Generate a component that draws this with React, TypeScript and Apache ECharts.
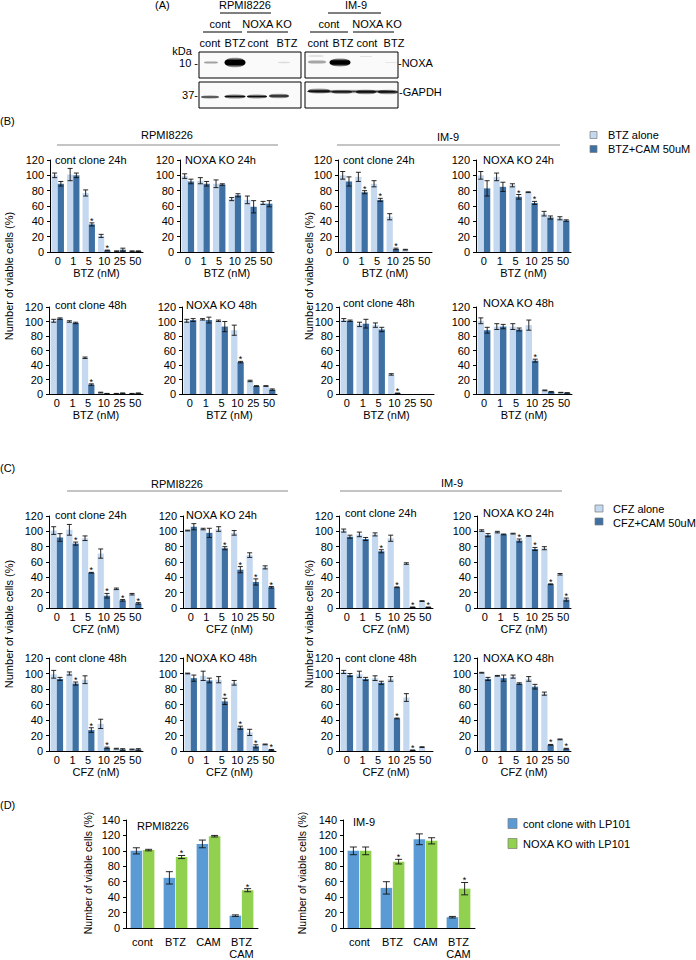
import React, { useEffect, useRef } from "react";
import * as echarts from "echarts";

const FONT = "'Liberation Sans', Arial, Helvetica, sans-serif";

// ---------- categories ----------
const doses = ["0", "1", "5", "10", "25", "50"];
const dCategories = ["cont", "BTZ", "CAM", "BTZ\nCAM"];

// ---------- Panel B (BTZ) ----------
const bRpmiCont24Alone = [100, 101, 77, 21, 1, 1];
const bRpmiCont24AloneErr = [3, 8, 4, 2, 0.5, 0.5];
const bRpmiCont24Cam = [89, 100, 36, 2, 3, 1];
const bRpmiCont24CamErr = [3, 3, 2, 0.5, 2, 0.5];
const bRpmiCont24Star = [0, 0, 1, 1, 0, 0];

const bRpmiKo24Alone = [99, 93, 89, 69, 68, 64];
const bRpmiKo24AloneErr = [3, 4, 5, 2, 5, 2];
const bRpmiKo24Cam = [92, 89, 88, 74, 59, 63];
const bRpmiKo24CamErr = [3, 3, 1, 2, 8, 4];
const bRpmiKo24Star = [0, 0, 0, 0, 0, 0];

const bImCont24Alone = [100, 98, 89, 46, 3, 0];
const bImCont24AloneErr = [5, 6, 4, 4, 0.5, 0];
const bImCont24Cam = [92, 78, 68, 4, 0, 0];
const bImCont24CamErr = [6, 2, 2, 1, 0, 0];
const bImCont24Star = [0, 1, 1, 1, 0, 0];

const bImKo24Alone = [100, 98, 87, 78, 50, 44];
const bImKo24AloneErr = [5, 5, 2, 0.5, 3, 2];
const bImKo24Cam = [83, 85, 72, 64, 45, 41];
const bImKo24CamErr = [10, 6, 3, 2, 2, 1];
const bImKo24Star = [0, 0, 1, 1, 0, 0];

const bRpmiCont48Alone = [101, 100, 50, 2, 0.5, 0.5];
const bRpmiCont48AloneErr = [2, 1, 1, 0.5, 0.3, 0.3];
const bRpmiCont48Cam = [104, 98, 13, 0.5, 1, 1];
const bRpmiCont48CamErr = [1, 1, 1, 0.3, 0.5, 0.5];
const bRpmiCont48Star = [0, 0, 1, 0, 0, 0];

const bRpmiKo48Alone = [101, 103, 101, 88, 18, 11];
const bRpmiKo48AloneErr = [2, 1, 1, 7, 1, 0.5];
const bRpmiKo48Cam = [102, 102, 93, 44, 11, 6];
const bRpmiKo48CamErr = [2, 4, 7, 1, 0.5, 1];
const bRpmiKo48Star = [0, 0, 0, 1, 0, 0];

const bImCont48Alone = [102, 96, 95, 27, 0, 0];
const bImCont48AloneErr = [2, 3, 3, 1, 0, 0];
const bImCont48Cam = [101, 97, 89, 1, 0, 0];
const bImCont48CamErr = [1, 6, 3, 0.3, 0, 0];
const bImCont48Star = [0, 0, 0, 1, 0, 0];

const bImKo48Alone = [101, 93, 93, 95, 5, 2];
const bImKo48AloneErr = [4, 4, 4, 7, 0.5, 0.3];
const bImKo48Cam = [88, 93, 89, 46, 3, 1.5];
const bImKo48CamErr = [4, 3, 2, 2, 0.5, 0.3];
const bImKo48Star = [0, 0, 0, 1, 0, 0];

// ---------- Panel C (CFZ) ----------
const cRpmiCont24Alone = [101, 102, 91, 71, 25, 18];
const cRpmiCont24AloneErr = [5, 7, 3, 6, 1, 1];
const cRpmiCont24Cam = [92, 84, 46, 16, 10, 6];
const cRpmiCont24CamErr = [5, 2, 0.5, 3, 1, 1];
const cRpmiCont24Star = [0, 1, 1, 1, 1, 1];

const cRpmiKo24Alone = [101, 103, 103, 98, 69, 53];
const cRpmiKo24AloneErr = [0.5, 1, 3, 3, 3, 2];
const cRpmiKo24Cam = [106, 98, 78, 50, 34, 27];
const cRpmiKo24CamErr = [4, 6, 2, 4, 4, 1];
const cRpmiKo24Star = [0, 0, 1, 1, 1, 1];

const cImCont24Alone = [101, 96, 96, 91, 58, 9];
const cImCont24AloneErr = [2, 3, 2, 4, 1, 0.5];
const cImCont24Cam = [93, 90, 74, 27, 1, 1];
const cImCont24CamErr = [2, 2, 2, 0.5, 0.3, 0.3];
const cImCont24Star = [0, 0, 1, 1, 1, 1];

const cImKo24Alone = [101, 99, 97, 94, 78, 44];
const cImKo24AloneErr = [1, 1, 0.5, 0.5, 2, 1];
const cImKo24Cam = [95, 96, 88, 77, 31, 11];
const cImKo24CamErr = [2, 0.5, 2, 2, 0.5, 2];
const cImKo24Star = [0, 0, 1, 1, 1, 1];

const cRpmiCont48Alone = [99, 100, 92, 35, 3, 2];
const cRpmiCont48AloneErr = [5, 2, 5, 6, 0.5, 0.5];
const cRpmiCont48Cam = [93, 87, 27, 4, 2, 2];
const cRpmiCont48CamErr = [2, 2, 3, 1, 1, 1];
const cRpmiCont48Star = [0, 1, 1, 1, 0, 0];

const cRpmiKo48Alone = [100, 97, 92, 88, 24, 8.5];
const cRpmiKo48AloneErr = [0.5, 6, 4, 3, 4, 0.5];
const cRpmiKo48Cam = [94, 91, 64, 30, 6, 1.5];
const cRpmiKo48CamErr = [4, 3, 4, 2, 2, 0.5];
const cRpmiKo48Star = [0, 0, 1, 1, 1, 1];

const cImCont48Alone = [102, 99, 94, 93, 69, 5];
const cImCont48AloneErr = [2, 4, 3, 3, 5, 0.5];
const cImCont48Cam = [98, 93, 88, 42, 1, 0];
const cImCont48CamErr = [2, 2, 2, 0.5, 0.3, 0];
const cImCont48Star = [0, 0, 0, 1, 1, 0];

const cImKo48Alone = [101, 97, 96, 93, 74, 15];
const cImKo48AloneErr = [0.5, 0.5, 2, 3, 2, 0.5];
const cImKo48Cam = [93, 94, 87, 83, 8, 3];
const cImKo48CamErr = [2, 4, 1, 3, 0.5, 0.5];
const cImKo48Star = [0, 0, 0, 0, 1, 1];

// ---------- Panel D (LP101) ----------
const dRpmiCont = [100, 65, 109, 16];
const dRpmiContErr = [4, 8, 5, 1];
const dRpmiKo = [101, 92, 119, 49];
const dRpmiKoErr = [1, 2, 1, 2];
const dRpmiStar = [0, 1, 0, 1];

const dImCont = [100, 52, 115, 14];
const dImContErr = [5, 8, 7, 1];
const dImKo = [100, 86, 113, 51];
const dImKoErr = [5, 3, 4, 8];
const dImStar = [0, 1, 0, 1];

// ---------- styling ----------
const LIGHT = "#c4d9f0";
const DARK = "#3e70a3";
const DBLUE = "#5b9bd5";
const DGREEN = "#92d050";

function makeErr(side: number, frac: number, gap: number, cap: number) {
  return (params: any, api: any) => {
    const i = api.value(0);
    const v = api.value(1);
    const e = api.value(2);
    const s = api.value(3);
    const band = api.size([1, 0])[0];
    const w = band * frac;
    const cx = api.coord([i, 0])[0] + side * (w / 2 + (gap * w) / 2);
    const yTop = api.coord([i, v + e])[1];
    const yBot = api.coord([i, Math.max(0, v - e)])[1];
    const st = { stroke: "#111", lineWidth: 0.9 };
    const children: any[] = [];
    if (e > 0) {
      children.push({ type: "line", shape: { x1: cx, y1: yTop, x2: cx, y2: yBot }, style: st });
      children.push({ type: "line", shape: { x1: cx - cap / 2, y1: yTop, x2: cx + cap / 2, y2: yTop }, style: st });
      children.push({ type: "line", shape: { x1: cx - cap / 2, y1: yBot, x2: cx + cap / 2, y2: yBot }, style: st });
    }
    if (s) {
      children.push({
        type: "text",
        x: cx,
        y: yTop + 2.5,
        style: {
          text: "*",
          fill: "#000",
          fontSize: 9,
          fontFamily: FONT,
          textAlign: "center",
          align: "center",
          textVerticalAlign: "bottom",
          verticalAlign: "bottom",
        },
      });
    }
    return { type: "group", children };
  };
}

function addChart(o: any, rect: number[], cats: string[], v1: number[], e1: number[], v2: number[], e2: number[], stars: number[], cfg: any) {
  const k = o.grid.length;
  o.grid.push({ left: rect[0], top: rect[1], width: rect[2], height: rect[3] });
  o.xAxis.push({
    type: "category",
    gridIndex: k,
    data: cats,
    axisLine: { lineStyle: { color: "#000", width: 1 } },
    axisTick: { show: false },
    axisLabel: {
      interval: 0,
      color: "#000",
      fontSize: 11,
      fontFamily: FONT,
      margin: cfg.labelMargin,
      ...(cfg.lineHeight ? { lineHeight: cfg.lineHeight } : {}),
    },
    name: cfg.xname || "",
    nameLocation: "middle",
    nameGap: cfg.nameGap || 15,
    nameTextStyle: { color: "#000", fontSize: 11, fontFamily: FONT },
  });
  o.yAxis.push({
    type: "value",
    gridIndex: k,
    min: 0,
    max: cfg.max,
    interval: 20,
    axisLine: { show: true, lineStyle: { color: "#000", width: 1 } },
    axisTick: { show: true, length: 3, lineStyle: { color: "#000" } },
    axisLabel: { color: "#000", fontSize: 11, fontFamily: FONT, margin: 6 },
    splitLine: { show: false },
  });
  const frac = (1 - cfg.catGap) / (2 + cfg.barGap);
  const bg = cfg.barGap * 100 + "%";
  const cg = cfg.catGap * 100 + "%";
  o.series.push({ type: "bar", xAxisIndex: k, yAxisIndex: k, data: v1, barGap: bg, barCategoryGap: cg, itemStyle: { color: cfg.c1 }, silent: true });
  o.series.push({ type: "bar", xAxisIndex: k, yAxisIndex: k, data: v2, barGap: bg, barCategoryGap: cg, itemStyle: { color: cfg.c2 }, silent: true });
  o.series.push({
    type: "custom", xAxisIndex: k, yAxisIndex: k, silent: true, clip: false, z: 5,
    renderItem: makeErr(-1, frac, cfg.barGap, cfg.cap),
    encode: { x: 0, y: 1 },
    data: v1.map((v, i) => [i, v, e1[i], 0]),
  });
  o.series.push({
    type: "custom", xAxisIndex: k, yAxisIndex: k, silent: true, clip: false, z: 5,
    renderItem: makeErr(1, frac, cfg.barGap, cfg.cap),
    encode: { x: 0, y: 1 },
    data: v2.map((v, i) => [i, v, e2[i], stars[i]]),
  });
}

function txt(text: string, x: number, y: number, opt: any = {}) {
  return {
    type: "text",
    x,
    y,
    rotation: opt.rot || 0,
    silent: true,
    style: {
      text,
      fill: "#000",
      fontSize: opt.size || 11,
      fontFamily: FONT,
      textAlign: opt.align || "left",
      align: opt.align || "left",
      textVerticalAlign: "middle",
      verticalAlign: "middle",
    },
  };
}

function hline(x1: number, x2: number, y: number, color = "#000", w = 1) {
  return { type: "line", silent: true, shape: { x1, y1: y, x2, y2: y }, style: { stroke: color, lineWidth: w } };
}

function band(cx: number, cy: number, rx: number, ry: number, a: number, solid = false) {
  const stops = solid
    ? [
        { offset: 0, color: `rgba(0,0,0,${a * 0.2})` },
        { offset: 0.3, color: `rgba(0,0,0,${a})` },
        { offset: 0.7, color: `rgba(0,0,0,${a})` },
        { offset: 1, color: `rgba(0,0,0,${a * 0.2})` },
      ]
    : [
        { offset: 0, color: "rgba(0,0,0,0)" },
        { offset: 0.5, color: `rgba(0,0,0,${a})` },
        { offset: 1, color: "rgba(0,0,0,0)" },
      ];
  return {
    type: "ellipse",
    silent: true,
    shape: { cx, cy, rx, ry },
    style: { fill: new echarts.graphic.LinearGradient(0, 0, 0, 1, stops) },
  };
}

function legendBox(x: number, y: number, w: number, h: number, color: string) {
  return { type: "rect", silent: true, shape: { x, y, width: w, height: h }, style: { fill: color, stroke: "#7a7a7a", lineWidth: 0.7 } };
}

function buildOption() {
  const o: any = { grid: [], xAxis: [], yAxis: [], series: [] };
  const g: any[] = [];

  const bc = { max: 120, c1: LIGHT, c2: DARK, barGap: 0, catGap: 0.2, cap: 5, labelMargin: 3, nameGap: 15 };
  const B = { ...bc, xname: "BTZ (nM)" };
  const C = { ...bc, xname: "CFZ (nM)" };

  // Panel B row 1
  addChart(o, [50, 160, 93, 92], doses, bRpmiCont24Alone, bRpmiCont24AloneErr, bRpmiCont24Cam, bRpmiCont24CamErr, bRpmiCont24Star, B);
  addChart(o, [180, 160, 94, 92], doses, bRpmiKo24Alone, bRpmiKo24AloneErr, bRpmiKo24Cam, bRpmiKo24CamErr, bRpmiKo24Star, B);
  addChart(o, [338, 160, 94, 92], doses, bImCont24Alone, bImCont24AloneErr, bImCont24Cam, bImCont24CamErr, bImCont24Star, B);
  addChart(o, [476, 160, 95, 92], doses, bImKo24Alone, bImKo24AloneErr, bImKo24Cam, bImKo24CamErr, bImKo24Star, B);
  // Panel B row 2
  addChart(o, [49, 307, 94, 87], doses, bRpmiCont48Alone, bRpmiCont48AloneErr, bRpmiCont48Cam, bRpmiCont48CamErr, bRpmiCont48Star, B);
  addChart(o, [182, 307, 95, 87], doses, bRpmiKo48Alone, bRpmiKo48AloneErr, bRpmiKo48Cam, bRpmiKo48CamErr, bRpmiKo48Star, B);
  addChart(o, [339, 307, 95, 87], doses, bImCont48Alone, bImCont48AloneErr, bImCont48Cam, bImCont48CamErr, bImCont48Star, B);
  addChart(o, [476, 307, 96, 87], doses, bImKo48Alone, bImKo48AloneErr, bImKo48Cam, bImKo48CamErr, bImKo48Star, B);
  // Panel C row 1
  addChart(o, [49, 516, 94, 92], doses, cRpmiCont24Alone, cRpmiCont24AloneErr, cRpmiCont24Cam, cRpmiCont24CamErr, cRpmiCont24Star, C);
  addChart(o, [183, 516, 93, 92], doses, cRpmiKo24Alone, cRpmiKo24AloneErr, cRpmiKo24Cam, cRpmiKo24CamErr, cRpmiKo24Star, C);
  addChart(o, [339, 516, 94, 92], doses, cImCont24Alone, cImCont24AloneErr, cImCont24Cam, cImCont24CamErr, cImCont24Star, C);
  addChart(o, [477, 516, 94, 92], doses, cImKo24Alone, cImKo24AloneErr, cImKo24Cam, cImKo24CamErr, cImKo24Star, C);
  // Panel C row 2
  addChart(o, [49, 658, 94, 93], doses, cRpmiCont48Alone, cRpmiCont48AloneErr, cRpmiCont48Cam, cRpmiCont48CamErr, cRpmiCont48Star, C);
  addChart(o, [183, 658, 93, 93], doses, cRpmiKo48Alone, cRpmiKo48AloneErr, cRpmiKo48Cam, cRpmiKo48CamErr, cRpmiKo48Star, C);
  addChart(o, [339, 658, 94, 93], doses, cImCont48Alone, cImCont48AloneErr, cImCont48Cam, cImCont48CamErr, cImCont48Star, C);
  addChart(o, [477, 658, 94, 93], doses, cImKo48Alone, cImKo48AloneErr, cImKo48Cam, cImKo48CamErr, cImKo48Star, C);
  // Panel D
  const D = { max: 140, c1: DBLUE, c2: DGREEN, barGap: 0.06, catGap: 0.28, cap: 7, labelMargin: 8, lineHeight: 12 };
  addChart(o, [126, 820, 132, 113], dCategories, dRpmiCont, dRpmiContErr, dRpmiKo, dRpmiKoErr, dRpmiStar, D);
  addChart(o, [343, 820, 132, 113], dCategories, dImCont, dImContErr, dImKo, dImKoErr, dImStar, D);

  // ---------- Panel A: western blot ----------
  g.push(txt("(A)", 155, 5));
  g.push(txt("RPMI8226", 245, 5, { align: "center" }));
  g.push(hline(220, 271, 13));
  g.push(txt("IM-9", 356, 5, { align: "center" }));
  g.push(hline(328, 381, 13));
  g.push(txt("cont", 220, 24, { align: "center" }));
  g.push(txt("NOXA KO", 267, 24, { align: "center" }));
  g.push(hline(203, 242, 32));
  g.push(hline(247, 288, 32));
  g.push(txt("cont", 329, 24, { align: "center" }));
  g.push(txt("NOXA KO", 377, 24, { align: "center" }));
  g.push(hline(310, 348, 32));
  g.push(hline(353, 394, 32));
  [
    ["cont", 210], ["BTZ", 235], ["cont", 258], ["BTZ", 287],
    ["cont", 318], ["BTZ", 343], ["cont", 367], ["BTZ", 394],
  ].forEach(([t, x]) => g.push(txt(t as string, x as number, 43, { align: "center" })));
  g.push(txt("kDa", 182, 51, { align: "center" }));
  g.push(txt("10 -", 198, 63, { align: "right" }));
  g.push(txt("37-", 198, 95, { align: "right" }));
  g.push(txt("-NOXA", 398, 63));
  g.push(txt("-GAPDH", 399, 92));
  [
    [199, 52, 102, 26], [305, 52, 93, 26], [199, 82, 102, 26], [305, 82, 93, 26],
  ].forEach((r) =>
    g.push({ type: "rect", silent: true, shape: { x: r[0], y: r[1], width: r[2], height: r[3] }, style: { fill: "#fafafa", stroke: "#000", lineWidth: 1 } })
  );
  // NOXA bands
  g.push(band(211, 62.5, 7, 2, 0.35));
  g.push(band(235, 62.5, 10.5, 5, 1, true));
  g.push(band(284, 62.5, 6, 1.4, 0.12));
  g.push(band(316, 56, 8, 1.3, 0.15));
  g.push(band(317, 62, 9, 2.5, 0.42));
  g.push(band(340, 62.5, 10.5, 4.2, 1, true));
  g.push(band(366, 56.5, 6, 1, 0.1));
  g.push(band(391, 62.5, 6, 1, 0.08));
  // GAPDH bands
  g.push(band(210, 97, 9, 2, 0.85));
  g.push(band(235, 96.5, 10.5, 2.6, 0.95));
  g.push(band(257, 96.5, 10, 2.5, 0.95));
  g.push(band(279, 96, 10, 2.8, 0.95));
  g.push(band(351, 91.5, 44, 2.2, 0.75));
  g.push(band(319, 91, 11, 3, 0.9));
  g.push(band(342, 92, 10, 2.4, 0.8));
  g.push(band(366, 92, 10, 2.8, 0.95));
  g.push(band(388, 92, 10, 2.8, 0.95));

  // ---------- Panel B texts ----------
  g.push(txt("(B)", 0, 121));
  g.push(txt("RPMI8226", 167, 135, { align: "center" }));
  g.push(hline(57, 278, 145, "#8a8a8a", 1.2));
  g.push(txt("IM-9", 448, 137, { align: "center" }));
  g.push(hline(337, 560, 145, "#8a8a8a", 1.2));
  g.push(txt("Number of viable cells (%)", 9, 276, { align: "center", rot: Math.PI / 2 }));
  g.push(txt("Number of viable cells (%)", 309, 276, { align: "center", rot: Math.PI / 2 }));
  g.push(txt("cont clone 24h", 55, 160));
  g.push(txt("NOXA KO 24h", 185, 160));
  g.push(txt("cont clone 24h", 343, 160));
  g.push(txt("NOXA KO 24h", 483, 160));
  g.push(txt("cont clone 48h", 55, 305));
  g.push(txt("NOXA KO 48h", 186, 305));
  g.push(txt("cont clone 48h", 343, 303));
  g.push(txt("NOXA KO 48h", 483, 303));
  g.push(legendBox(590, 131.5, 7, 7, LIGHT));
  g.push(legendBox(590, 145.5, 7, 7, DARK));
  g.push(txt("BTZ alone", 608, 135));
  g.push(txt("BTZ+CAM 50uM", 608, 149));

  // ---------- Panel C texts ----------
  g.push(txt("(C)", 0, 468));
  g.push(txt("RPMI8226", 177, 484, { align: "center" }));
  g.push(hline(67, 288, 491, "#8a8a8a", 1.2));
  g.push(txt("IM-9", 452, 483, { align: "center" }));
  g.push(hline(340, 562, 491, "#8a8a8a", 1.2));
  g.push(txt("Number of viable cells (%)", 9, 624, { align: "center", rot: Math.PI / 2 }));
  g.push(txt("Number of viable cells (%)", 309, 624, { align: "center", rot: Math.PI / 2 }));
  g.push(txt("cont clone 24h", 55, 515));
  g.push(txt("NOXA KO 24h", 186, 515));
  g.push(txt("cont clone 24h", 345, 513));
  g.push(txt("NOXA KO 24h", 483, 513));
  g.push(txt("cont clone 48h", 55, 658));
  g.push(txt("NOXA KO 48h", 186, 658));
  g.push(txt("cont clone 48h", 345, 658));
  g.push(txt("NOXA KO 48h", 483, 658));
  g.push(legendBox(595, 505, 8, 7, LIGHT));
  g.push(legendBox(595, 518, 8, 7, DARK));
  g.push(txt("CFZ alone", 613, 509));
  g.push(txt("CFZ+CAM 50uM", 613, 523));

  // ---------- Panel D texts ----------
  g.push(txt("(D)", 0, 805));
  g.push(txt("Number of viable cells (%)", 88, 873, { align: "center", rot: Math.PI / 2, size: 10.5 }));
  g.push(txt("Number of viable cells (%)", 302, 873, { align: "center", rot: Math.PI / 2, size: 10.5 }));
  g.push(txt("RPMI8226", 137, 826));
  g.push(txt("IM-9", 353, 822));
  g.push(legendBox(508, 818.5, 9, 10, DBLUE));
  g.push(legendBox(508, 838.5, 9, 10, DGREEN));
  g.push(txt("cont clone with LP101", 523, 824));
  g.push(txt("NOXA KO with LP101", 523, 844));

  return {
    animation: false,
    backgroundColor: "#ffffff",
    textStyle: { fontFamily: FONT },
    grid: o.grid,
    xAxis: o.xAxis,
    yAxis: o.yAxis,
    series: o.series,
    graphic: { elements: g },
  };
}

export default function App() {
  const ref = useRef<HTMLDivElement>(null);
  useEffect(() => {
    document.body.style.margin = "0";
    const chart = echarts.init(ref.current!, null, { renderer: "svg" });
    chart.setOption(buildOption());
    return () => chart.dispose();
  }, []);
  return <div ref={ref} style={{ width: 696, height: 960 }} />;
}
